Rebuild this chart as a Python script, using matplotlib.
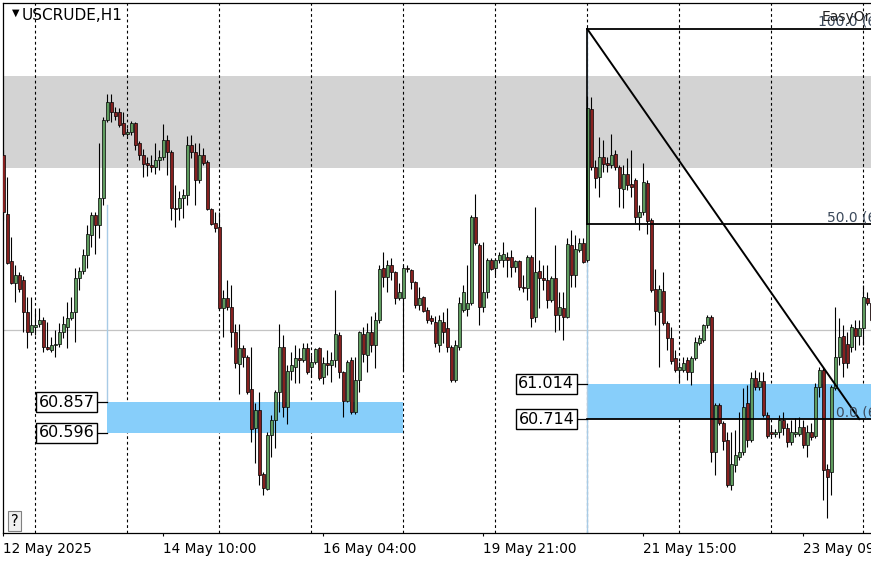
import matplotlib
matplotlib.use("Agg")
import matplotlib.pyplot as plt
from matplotlib.patches import Rectangle
import numpy as np

# USCRUDE H1 candles (one value per bar)
opens = [
    62.96, 62.46, 62.06, 61.87, 61.94, 61.90, 61.62, 61.45, 61.50, 61.52,
    61.56, 61.33, 61.30, 61.34, 61.35, 61.45, 61.50, 61.57, 61.62, 61.91,
    61.97, 62.11, 62.28, 62.45, 62.36, 62.59, 63.26, 63.41, 63.32, 63.32,
    63.23, 63.14, 63.15, 63.23, 63.06, 62.96, 62.89, 62.87, 62.86, 62.92,
    62.94, 63.09, 62.98, 62.51, 62.51, 62.59, 62.62, 63.04, 62.98, 62.75,
    62.96, 62.90, 62.50, 62.38, 62.35, 61.66, 61.74, 61.67, 61.45, 61.18,
    61.32, 61.24, 60.97, 60.64, 60.79, 60.25, 60.12, 60.58, 60.71, 60.94,
    61.33, 60.82, 61.12, 61.16, 61.23, 61.22, 61.32, 61.16, 61.20, 61.32,
    61.07, 61.19, 61.17, 61.22, 61.43, 61.11, 60.87, 61.22, 60.77, 61.05,
    61.44, 61.26, 61.45, 61.34, 61.56, 62.00, 61.92, 62.02, 61.96, 61.74,
    61.74, 62.00, 61.98, 61.88, 61.68, 61.75, 61.64, 61.57, 61.54, 61.34,
    61.54, 61.49, 61.33, 61.05, 61.33, 61.64, 61.65, 61.70, 62.43, 62.19,
    61.67, 61.79, 62.07, 62.00, 62.07, 62.07, 62.09, 62.09, 62.01, 62.06,
    61.84, 61.83, 62.09, 61.58, 61.97, 61.91, 61.90, 61.73, 61.91, 61.60,
    61.66, 61.58, 62.19, 61.94, 62.15, 62.21, 62.07, 63.35, 62.86, 62.77,
    62.94, 62.89, 62.87, 62.97, 62.86, 62.67, 62.80, 62.71, 62.75, 62.43,
    62.47, 62.72, 62.41, 61.82, 61.62, 61.80, 61.53, 61.40, 61.23, 61.13,
    61.13, 61.22, 61.11, 61.23, 61.36, 61.39, 61.51, 61.58, 60.43, 60.83,
    60.68, 60.54, 60.15, 60.32, 60.39, 60.43, 60.85, 60.54, 61.06, 60.99,
    61.04, 60.75, 60.60, 60.59, 60.60, 60.71, 60.64, 60.52, 60.59, 60.59,
    60.65, 60.49, 60.60, 60.57, 60.99, 61.13, 60.29, 60.26, 60.98, 61.24,
    61.42, 61.35, 61.33, 61.49, 61.42, 61.49, 61.74, 61.70,
]
highs = [
    63.00, 62.77, 62.26, 62.02, 61.96, 61.93, 61.75, 61.75, 61.64, 61.66,
    61.58, 61.54, 61.41, 61.47, 61.53, 61.59, 61.71, 61.75, 62.00, 62.01,
    62.16, 62.36, 62.47, 62.47, 63.06, 63.28, 63.48, 63.48, 63.37, 63.36,
    63.32, 63.19, 63.25, 63.24, 63.08, 63.01, 62.94, 62.96, 63.06, 63.00,
    63.22, 63.13, 63.00, 62.70, 62.65, 62.67, 63.12, 63.13, 63.06, 63.06,
    63.02, 62.92, 62.51, 62.47, 62.47, 61.81, 61.90, 61.85, 61.52, 61.52,
    61.34, 61.26, 61.33, 60.85, 60.94, 60.26, 60.60, 60.75, 60.96, 61.52,
    61.43, 61.17, 61.28, 61.34, 61.32, 61.36, 61.36, 61.26, 61.32, 61.33,
    61.24, 61.30, 61.28, 61.81, 61.45, 61.12, 61.22, 61.24, 61.24, 61.46,
    61.50, 61.53, 61.59, 61.62, 62.02, 62.13, 62.07, 62.08, 61.97, 61.87,
    62.02, 62.02, 61.99, 61.89, 61.84, 61.76, 61.67, 61.60, 61.59, 61.60,
    61.62, 61.66, 61.34, 61.39, 61.75, 61.85, 62.02, 62.45, 62.63, 62.21,
    62.22, 62.08, 62.08, 62.08, 62.13, 62.22, 62.13, 62.15, 62.07, 62.07,
    61.94, 62.11, 62.11, 62.52, 62.07, 62.02, 62.02, 61.93, 62.19, 61.79,
    61.79, 62.25, 62.32, 62.28, 62.25, 62.25, 63.46, 63.45, 62.92, 63.11,
    63.09, 62.94, 63.14, 63.00, 62.87, 62.87, 62.93, 63.00, 62.76, 62.53,
    62.89, 62.75, 62.42, 61.99, 61.85, 61.96, 61.55, 61.50, 61.30, 61.20,
    61.24, 61.24, 61.25, 61.41, 61.43, 61.52, 61.60, 61.60, 60.85, 60.85,
    60.70, 60.60, 60.60, 60.62, 60.77, 60.98, 61.00, 61.11, 61.13, 61.11,
    61.11, 60.77, 60.65, 60.63, 60.75, 60.77, 60.68, 60.71, 60.72, 60.73,
    60.71, 60.66, 60.68, 61.02, 61.16, 61.16, 60.33, 61.00, 61.67, 61.57,
    61.51, 61.45, 61.52, 61.56, 61.56, 61.85, 61.79, 61.73,
]
lows = [
    62.41, 62.03, 61.86, 61.71, 61.79, 61.45, 61.32, 61.43, 61.43, 61.50,
    61.28, 61.30, 61.28, 61.24, 61.33, 61.40, 61.32, 61.56, 61.37, 61.81,
    61.95, 62.00, 62.18, 62.12, 62.25, 62.53, 63.24, 63.24, 63.26, 63.20,
    63.12, 63.12, 63.13, 63.00, 62.92, 62.77, 62.78, 62.81, 62.80, 62.83,
    62.92, 62.79, 62.41, 62.35, 62.41, 62.42, 62.53, 62.93, 62.53, 62.72,
    62.87, 62.49, 62.36, 62.30, 61.64, 61.41, 61.64, 61.33, 61.15, 60.93,
    61.16, 60.93, 60.52, 60.34, 60.15, 60.07, 60.11, 60.39, 60.47, 60.77,
    60.73, 60.67, 61.05, 61.02, 61.02, 61.20, 61.10, 61.07, 61.18, 61.05,
    61.01, 61.09, 61.03, 61.16, 61.06, 60.73, 60.86, 60.76, 60.76, 60.94,
    61.20, 61.11, 61.28, 61.15, 61.53, 61.84, 61.79, 61.90, 61.69, 61.73,
    61.12, 61.96, 61.82, 61.66, 61.64, 61.62, 61.53, 61.52, 61.33, 61.28,
    61.36, 61.28, 61.03, 61.03, 61.30, 61.62, 61.59, 61.68, 62.19, 61.51,
    61.62, 61.74, 61.98, 61.94, 62.04, 62.01, 61.92, 61.92, 61.96, 61.81,
    61.79, 61.73, 61.50, 61.54, 61.66, 61.81, 61.66, 61.71, 61.45, 61.47,
    61.39, 61.57, 61.84, 61.84, 62.13, 62.04, 62.05, 62.83, 62.68, 62.60,
    62.81, 62.81, 62.85, 62.83, 62.52, 62.51, 62.66, 62.60, 62.38, 62.32,
    62.45, 62.29, 61.79, 61.51, 61.16, 61.51, 61.30, 61.18, 61.11, 61.02,
    61.11, 61.05, 61.00, 61.22, 61.34, 61.37, 61.49, 60.35, 60.24, 60.66,
    60.45, 60.14, 60.11, 60.26, 60.37, 60.41, 60.48, 60.52, 60.96, 60.96,
    60.73, 60.55, 60.56, 60.56, 60.55, 60.58, 60.48, 60.49, 60.56, 60.57,
    60.47, 60.39, 60.54, 60.55, 60.90, 60.03, 59.87, 60.07, 60.96, 61.17,
    61.07, 61.15, 61.28, 61.30, 61.34, 61.34, 61.68, 61.54,
]
closes = [
    62.47, 62.04, 61.87, 61.94, 61.82, 61.62, 61.45, 61.51, 61.51, 61.56,
    61.33, 61.31, 61.34, 61.35, 61.45, 61.52, 61.57, 61.62, 61.91, 61.97,
    62.11, 62.29, 62.45, 62.36, 62.59, 63.26, 63.41, 63.32, 63.29, 63.21,
    63.14, 63.15, 63.23, 63.04, 62.96, 62.88, 62.87, 62.86, 62.92, 62.94,
    63.09, 62.98, 62.51, 62.50, 62.59, 62.62, 63.04, 62.98, 62.75, 62.96,
    62.89, 62.50, 62.37, 62.34, 61.66, 61.74, 61.67, 61.45, 61.19, 61.32,
    61.24, 60.94, 60.63, 60.79, 60.24, 60.13, 60.58, 60.71, 60.94, 61.33,
    60.82, 61.12, 61.17, 61.23, 61.22, 61.32, 61.11, 61.20, 61.31, 61.06,
    61.19, 61.17, 61.22, 61.44, 61.11, 60.87, 61.20, 60.77, 61.05, 61.45,
    61.27, 61.45, 61.34, 61.56, 61.99, 61.92, 62.02, 61.96, 61.74, 61.79,
    62.00, 61.99, 61.88, 61.68, 61.74, 61.63, 61.56, 61.55, 61.36, 61.56,
    61.45, 61.33, 61.05, 61.34, 61.70, 61.79, 61.70, 62.43, 62.21, 61.67,
    61.79, 62.07, 61.99, 62.07, 62.11, 62.12, 62.07, 62.01, 62.06, 61.84,
    61.83, 62.09, 61.57, 61.96, 61.91, 61.90, 61.73, 61.91, 61.60, 61.67,
    61.58, 62.20, 61.94, 62.16, 62.21, 62.05, 63.36, 62.86, 62.76, 62.94,
    62.88, 62.87, 62.96, 62.86, 62.68, 62.80, 62.70, 62.69, 62.43, 62.47,
    62.73, 62.40, 61.81, 61.63, 61.82, 61.53, 61.40, 61.21, 61.13, 61.16,
    61.19, 61.11, 61.23, 61.37, 61.40, 61.51, 61.58, 60.43, 60.83, 60.68,
    60.53, 60.15, 60.33, 60.41, 60.43, 60.82, 60.54, 61.06, 60.99, 61.04,
    60.75, 60.57, 60.59, 60.60, 60.71, 60.64, 60.52, 60.60, 60.60, 60.65,
    60.49, 60.60, 60.56, 60.99, 61.13, 60.28, 60.22, 60.99, 61.24, 61.41,
    61.19, 61.19, 61.50, 61.42, 61.49, 61.75, 61.70, 61.56,
]

# time axis labels (bar index -> label)
tick_bars = [0, 40, 80, 120, 160, 200]
tick_labels = ["12 May 2025", "14 May 10:00", "16 May 04:00",
               "19 May 21:00", "21 May 15:00", "23 May 09:00"]
day_start_bars = [8, 31, 54, 77, 100, 123, 146, 169, 192, 215]

# drawn objects
resistance_zone = (62.85, 63.63)
left_zone = (26, 100, 60.596, 60.857)
right_zone = (146, 60.714, 61.014)
fib_start_bar, fib_end_bar = 146, 214
fib_levels = [(100.0, 64.030), (50.0, 62.372), (0.0, 60.714)]
bid_price = 61.47

GREEN = "#5f9c5f"
RED = "#86201f"
ZONE_BLUE = "#87cefa"
LINE_BLUE = "#a8cbe6"

fig = plt.figure(figsize=(8.71, 5.62), dpi=100)
W, H = 871, 562
ax = fig.add_axes([2.5 / W, 1 - 533 / H, 1 - 2.5 / W, 530.5 / H])
ax.set_xlim(-0.2, 216.925)
ax.set_ylim(59.7455, 64.255)
x_right = 240

ax.axhspan(*resistance_zone, color="#d3d3d3", lw=0, zorder=0)
for b in day_start_bars:
    ax.axvline(b, color="black", lw=0.8, ls=(0, (2.5, 2.5)), zorder=1)
ax.axhline(bid_price, color="#c4c4c4", lw=0.9, zorder=1)

l0, l1, lb, lt = left_zone
ax.add_patch(Rectangle((l0, lb), l1 - l0, lt - lb, color=ZONE_BLUE, lw=0, zorder=1))
r0, rb, rt = right_zone
ax.add_patch(Rectangle((r0, rb), x_right - r0, rt - rb, color=ZONE_BLUE, lw=0, zorder=1))
ax.plot([l0, l0], [lows[25], lt], color=LINE_BLUE, lw=1, zorder=1.5)
ax.plot([r0, r0], [fib_levels[0][1], 59.7], color=LINE_BLUE, lw=1, zorder=1.5)

# candles
x = np.arange(len(closes))
o = np.array(opens)
c = np.array(closes)
colors = [GREEN if cc >= oo else RED for oo, cc in zip(o, c)]
ax.vlines(x, lows, highs, color="black", lw=0.8, zorder=3)
body_low = np.minimum(o, c)
body_h = np.maximum(np.abs(c - o), 0.006)
ax.bar(x, body_h, bottom=body_low, width=0.6, color=colors,
       edgecolor="black", linewidth=0.5, zorder=4)

# fibonacci retracement
ax.plot([fib_start_bar, fib_start_bar], [fib_levels[0][1], fib_levels[1][1]],
        color="black", lw=1.2, zorder=5)
ax.plot([fib_start_bar, fib_end_bar], [fib_levels[0][1], fib_levels[2][1]],
        color="black", lw=1.4, zorder=5)
label_bars = [203.7, 206.0, 208.2]
for (lvl, price), lbar in zip(fib_levels, label_bars):
    ax.plot([fib_start_bar, x_right], [price, price], color="black", lw=1.3, zorder=5)
    ax.annotate(f"{lvl:.1f} ({price:.3f})", xy=(lbar, price), xytext=(0, 3),
                textcoords="offset pixels", ha="left", va="baseline",
                fontsize=10, color="#3c4a5c", zorder=6, annotation_clip=False)
ax.text(204.7, 64.10, "EasyOrder", fontsize=10, color="#222222", zorder=6)

# price labels of the zones
box = dict(boxstyle="square,pad=0.15", fc="white", ec="black", lw=1)
for bar, price in [(l0, lt), (l0, lb), (r0, rt), (r0, rb)]:
    ax.plot([bar - 2.5, bar], [price, price], color="black", lw=0.9, zorder=6)
    ax.annotate(f"{price:.3f}", xy=(bar, price), xytext=(-13, 0),
                textcoords="offset pixels", ha="right", va="center",
                fontsize=11.5, bbox=box, zorder=7)

ax.set_yticks([])
ax.set_xticks(tick_bars, tick_labels)
ax.tick_params(axis="x", direction="out", length=2.5, width=0.8, pad=4,
               labelsize=9.8)
for lab in ax.get_xticklabels():
    lab.set_ha("left")
for side in ["left", "top", "bottom"]:
    ax.spines[side].set_linewidth(0.9)
ax.spines["right"].set_visible(False)

fig.text(12 / W, 1 - 13 / H, "\u25bc", fontsize=7, ha="left", va="center")
fig.text(22 / W, 1 - 15 / H, "USCRUDE,H1", fontsize=11, ha="left", va="center")
fig.text(14.5 / W, 1 - 521 / H, "?", fontsize=10.5, ha="center", va="center",
         bbox=dict(boxstyle="square,pad=0.2", fc="#f0f0f0", ec="#808080", lw=0.8))

fig.savefig("out.png", dpi=100)
